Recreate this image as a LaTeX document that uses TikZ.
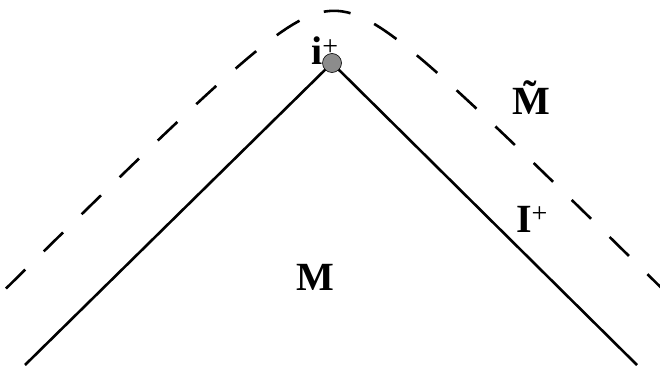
\documentclass[tikz,border=0pt]{standalone}
\usepackage{fontspec}
\setmainfont{Liberation Serif}
\begin{document}
\begin{tikzpicture}[
  x=1pt, y=1pt,
  edge/.style={line width=2.6pt, black},
  horizon/.style={line width=2.6pt, black, dash pattern=on 27pt off 26pt},
  point/.style={circle, draw=black, line width=0.6pt, fill=black!45, minimum size=19pt, inner sep=0pt},
  region/.style={font=\fontsize{40}{48}\selectfont\bfseries, anchor=base, inner sep=0pt},
]

\useasboundingbox (0,0) rectangle (660,370);

% Spacetime corners
\coordinate (lend) at (25,5);
\coordinate (apex) at (332,307);
\coordinate (rend) at (637,5);

% Boundary of M
\draw[edge] (lend) -- (apex) -- (rend);
\node[point] (iplus) at (apex) {};

% Boundary of extended region
\draw[horizon] plot[domain=6:662, samples=120] (\x, {414-10*sqrt(30+((\x-334)/10)^2)});

% Labels
\node[region] (ilabel) at (325,305) {i\textsuperscript{\mdseries +}};
\node[region] (mtilde) at (531,255) {\~M};
\node[region] (scri) at (532,138) {I\textsuperscript{\mdseries +}};
\node[region] (mlabel) at (315,80) {M};

\end{tikzpicture}
\end{document}
